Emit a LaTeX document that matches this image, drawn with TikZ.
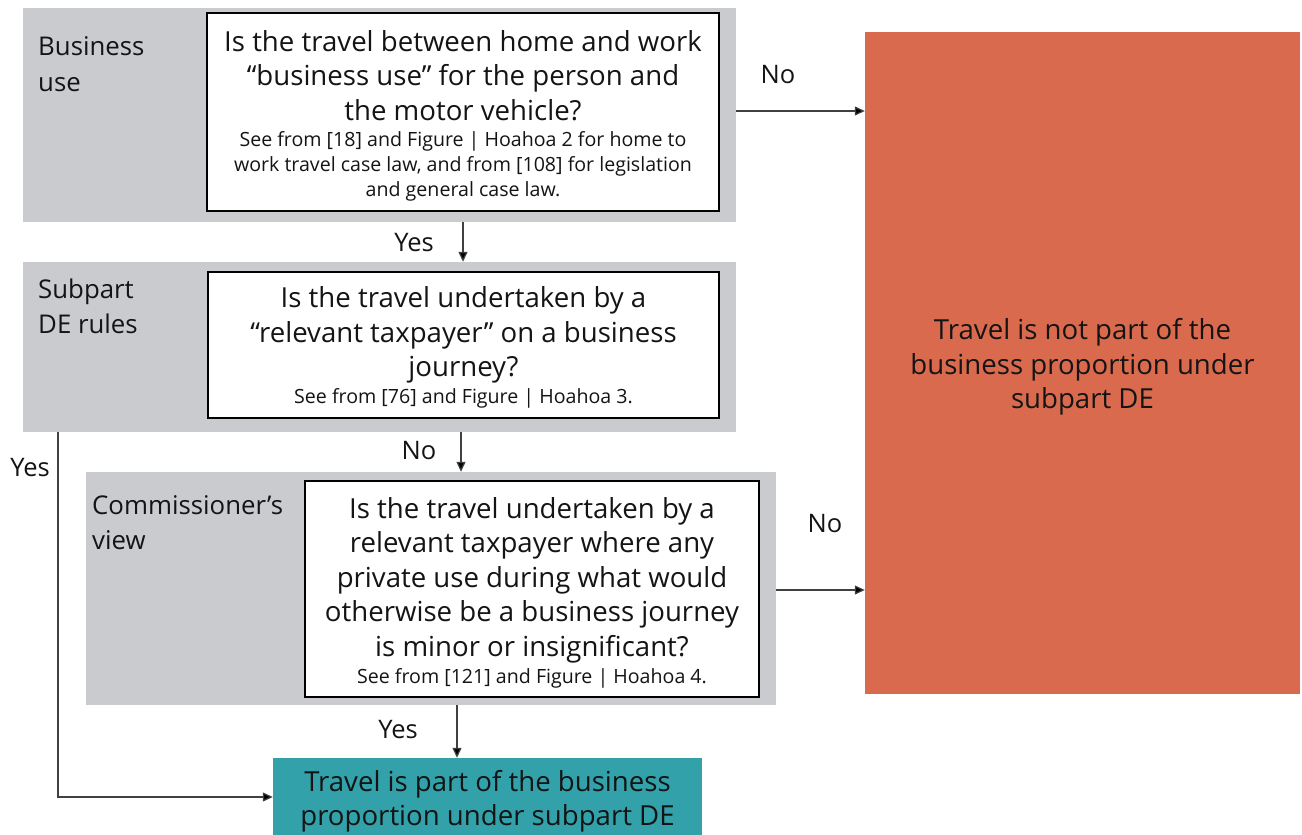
\documentclass[tikz,border=0pt]{standalone}
\usepackage{fontspec}
\setmainfont{Open Sans}
\usetikzlibrary{arrows.meta}
\definecolor{panelgray}{RGB}{201,203,207}
\definecolor{redbox}{RGB}{218,106,78}
\definecolor{tealbox}{RGB}{50,161,170}
\definecolor{txt}{RGB}{20,20,20}
\tikzset{
  panel/.style={fill=panelgray, draw=none, inner sep=0pt},
  qbox/.style={fill=white, draw=black, line width=1.8pt, inner sep=0pt},
  endbox/.style={draw=none, inner sep=0pt},
  bigtxt/.style={text=txt, inner sep=0pt, align=center, font=\fontsize{27.6}{34.5}\selectfont},
  smalltxt/.style={text=txt, inner sep=0pt, align=center, font=\fontsize{19.6}{25}\selectfont},
  lbltxt/.style={text=txt, inner sep=0pt, align=left, anchor=west, font=\fontsize{25.8}{35.5}\selectfont},
  edgetxt/.style={text=txt, inner sep=0pt, font=\fontsize{25.5}{30}\selectfont},
  arr/.style={draw=black!75, line width=1.2pt, -{Triangle[length=10pt,width=9pt,fill=black]}},
}
\begin{document}
\begin{tikzpicture}[x=1pt,y=-1pt]
\useasboundingbox (0,0) rectangle (1302,835);
% panels
\node[panel, minimum width=713pt, minimum height=214pt] (p1) at (379.5,115) {};
\node[panel, minimum width=713pt, minimum height=170pt] (p2) at (379.5,347) {};
\node[panel, minimum width=690pt, minimum height=233pt] (p3) at (431,588.5) {};
% question boxes
\node[qbox, minimum width=512pt, minimum height=198pt] (b1) at (463,112) {};
\node[qbox, minimum width=511pt, minimum height=146pt] (b2) at (463.5,345) {};
\node[qbox, minimum width=454pt, minimum height=216pt] (b3) at (532,589) {};
% outcome boxes
\node[endbox, fill=redbox, minimum width=435pt, minimum height=662pt] (red) at (1082.5,363) {};
\node[endbox, fill=tealbox, minimum width=429pt, minimum height=78pt] (green) at (487.5,797) {};
% panel labels
\node[lbltxt] (l1) at (38,64) {Business\\use};
\node[lbltxt] (l2) at (38,306.5) {Subpart\\DE rules};
\node[lbltxt] (l3) at (92,522.5) {Commissioner’s\\view};
% question texts
\node[bigtxt] (q1) at (463,75.5) {Is the travel between home and work\\“business use” for the person and\\the motor vehicle?};
\node[smalltxt] (s1) at (463,166) {See from [18] and Figure | Hoahoa 2 for home to\\work travel case law, and from [108] for legislation\\and general case law.};
\node[bigtxt] (q2) at (463.5,335) {Is the travel undertaken by a\\“relevant taxpayer” on a business\\journey?};
\node[smalltxt] (s2) at (463.5,398) {See from [76] and Figure | Hoahoa 3.};
\node[bigtxt] (q3) at (532,580) {Is the travel undertaken by a\\relevant taxpayer where any\\private use during what would\\otherwise be a business journey\\is minor or insignificant?};
\node[smalltxt] (s3) at (532,678) {See from [121] and Figure | Hoahoa 4.};
% outcome texts
\node[bigtxt] (rt) at (1082.5,367) {Travel is not part of the\\business proportion under\\subpart DE};
\node[bigtxt] (gt) at (487.5,801) {Travel is part of the business\\proportion under subpart DE};
% helper coordinates
\coordinate (ycol) at (457,0);
\coordinate (lcol) at (58,0);
% connectors
\draw[arr] ([yshift=4pt]p1.east) -- ([yshift=4pt]p1.east -| red.west);
\draw[arr] (b1.south |- p1.south) -- (b1.south |- p2.north);
\draw[arr] ([xshift=-2.5pt]b2.south |- p2.south) -- ([xshift=-2.5pt]b2.south |- p3.north);
\draw[arr] ([yshift=-1.5pt]p3.east) -- ([yshift=-1.5pt]p3.east -| red.west);
\draw[arr] (p3.south -| ycol) -- (green.north -| ycol);
\draw[arr] (p2.south -| lcol) |- (green.west);
% edge labels
\node[edgetxt] (e1) at (778,75) {No};
\node[edgetxt] (e2) at (414,243) {Yes};
\node[edgetxt] (e3) at (419,451) {No};
\node[edgetxt] (e4) at (825,524) {No};
\node[edgetxt] (e5) at (398,730) {Yes};
\node[edgetxt] (e6) at (30,468) {Yes};
\end{tikzpicture}
\end{document}
